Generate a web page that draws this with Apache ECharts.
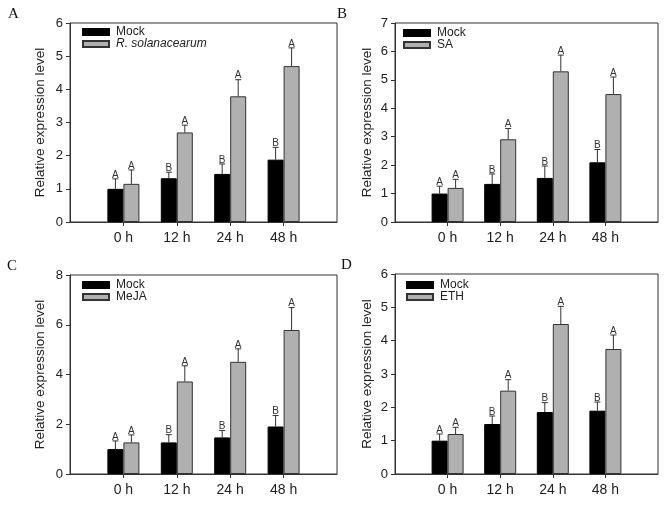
<!DOCTYPE html>
<html>
<head>
<meta charset="utf-8">
<script src="https://cdn.jsdelivr.net/npm/echarts@6/dist/echarts.min.js"></script>
<style>
  html, body { margin: 0; padding: 0; background: #fff; }
  #chart { width: 669px; height: 508px; }
</style>
</head>
<body>
<div id="chart"></div>
<script>
// categories (time after treatment)
const categories = ["0 h", "12 h", "24 h", "48 h"];
const panelLabels = ["A", "B", "C", "D"];
const treatNames = ["R. solanacearum", "SA", "MeJA", "ETH"];

// y axis max / step per panel
const yMax = [6, 7, 8, 6];
const yStep = [1, 1, 2, 1];

// mock values + error (upper)
const mockA = [1.0, 1.32, 1.45, 1.88];
const mockErrA = [0.3, 0.18, 0.3, 0.37];
const treatA = [1.15, 2.7, 3.79, 4.7];
const treatErrA = [0.42, 0.22, 0.5, 0.55];

const mockB = [1.0, 1.34, 1.55, 2.1];
const mockErrB = [0.26, 0.35, 0.42, 0.45];
const treatB = [1.2, 2.91, 5.3, 4.5];
const treatErrB = [0.3, 0.38, 0.57, 0.6];

const mockC = [1.0, 1.27, 1.47, 1.91];
const mockErrC = [0.33, 0.31, 0.28, 0.44];
const treatC = [1.27, 3.72, 4.51, 5.79];
const treatErrC = [0.3, 0.63, 0.52, 0.9];

const mockD = [1.0, 1.5, 1.86, 1.9];
const mockErrD = [0.2, 0.24, 0.28, 0.26];
const treatD = [1.2, 2.5, 4.5, 3.75];
const treatErrD = [0.2, 0.33, 0.53, 0.42];

// significance letters
const mockLetters = ["A", "B", "B", "B"];
const treatLetters = ["A", "A", "A", "A"];

const mockVals = [mockA, mockB, mockC, mockD];
const mockErrs = [mockErrA, mockErrB, mockErrC, mockErrD];
const treatVals = [treatA, treatB, treatC, treatD];
const treatErrs = [treatErrA, treatErrB, treatErrC, treatErrD];

const lineColor = "#333";
const textColor = "#222";
const grayColor = "#b0b0b0";
const barW = 16;

// plot boxes
const boxes = [
  { left: 70, top: 23, width: 267, height: 199 },
  { left: 395, top: 23, width: 263, height: 199 },
  { left: 70, top: 275, width: 267, height: 199 },
  { left: 395, top: 274, width: 263, height: 200 },
];
const nameGaps = [23, 21, 23, 21];
const letterPos = [
  { left: 8, top: 7 },
  { left: 337, top: 7 },
  { left: 7, top: 259 },
  { left: 341, top: 258 },
];
const legendPos = [
  { left: 82, top: 26 },
  { left: 403, top: 27 },
  { left: 82, top: 279 },
  { left: 406, top: 279 },
];

// one empty slot on each side of the four time points
const xData = [""].concat(categories, [""]);
const pad = (arr) => ["-"].concat(arr, ["-"]);

// error bar + letter drawn over one bar of the pair
let errorRenderer = (offset, letters) => {
  return (params, api) => {
    const x = api.value(0);
    const v = api.value(1);
    const e = api.value(2);
    const base = api.coord([x, v]);
    const top = api.coord([x, v + e]);
    const cx = base[0] + offset;
    const st = { stroke: lineColor, lineWidth: 1 };
    return {
      type: "group",
      children: [
        { type: "line", shape: { x1: cx, y1: base[1], x2: cx, y2: top[1] }, style: st },
        { type: "line", shape: { x1: cx - 3, y1: top[1], x2: cx + 3, y2: top[1] }, style: st },
        {
          type: "text",
          x: cx,
          y: top[1] + 1,
          style: {
            text: letters[params.dataIndex],
            fill: "#333",
            font: "10px 'Liberation Sans', Arial, sans-serif",
            align: "center",
            verticalAlign: "bottom",
          },
        },
      ],
    };
  };
};

let option = {
  animation: false,
  backgroundColor: "#fff",
  textStyle: { fontFamily: "'Liberation Sans', Arial, sans-serif" },
  title: [],
  legend: [],
  grid: [],
  xAxis: [],
  yAxis: [],
  series: [],
};

for (let p = 0; p < 4; p++) {
  option.title.push({
    text: panelLabels[p],
    left: letterPos[p].left,
    top: letterPos[p].top,
    padding: 0,
    textStyle: {
      fontFamily: "'Liberation Serif', 'Times New Roman', serif",
      fontSize: 15,
      fontWeight: "normal",
      color: "#111",
    },
  });

  option.legend.push({
    left: legendPos[p].left,
    top: legendPos[p].top,
    orient: "vertical",
    padding: 0,
    itemGap: 0,
    itemWidth: 26,
    itemHeight: 6,
    icon: "rect",
    selectedMode: false,
    textStyle: { fontSize: 12, color: textColor, lineHeight: 10, padding: [0, 0, 0, 2] },
    data: [
      { name: "Mock" },
      { name: treatNames[p], textStyle: p === 0 ? { fontStyle: "italic" } : {} },
    ],
  });

  option.grid.push({
    left: boxes[p].left,
    top: boxes[p].top,
    width: boxes[p].width,
    height: boxes[p].height,
    show: true,
    borderColor: lineColor,
    borderWidth: 1,
    backgroundColor: "transparent",
  });

  option.xAxis.push({
    type: "category",
    gridIndex: p,
    data: xData,
    boundaryGap: false,
    axisLine: { lineStyle: { color: lineColor } },
    axisTick: {
      length: 4,
      lineStyle: { color: lineColor },
      interval: (i, v) => v !== "",
    },
    axisLabel: { color: textColor, fontSize: 14, margin: 9, interval: 0 },
    splitLine: { show: false },
  });

  option.yAxis.push({
    type: "value",
    gridIndex: p,
    min: 0,
    max: yMax[p],
    interval: yStep[p],
    name: "Relative expression level",
    nameLocation: "middle",
    nameGap: nameGaps[p],
    nameTextStyle: { fontSize: 13.5, color: textColor },
    axisLine: { show: true, lineStyle: { color: lineColor } },
    axisTick: { show: true, length: 4, lineStyle: { color: lineColor } },
    axisLabel: { color: textColor, fontSize: 13, margin: 7 },
    splitLine: { show: false },
  });

  option.series.push(
    {
      name: "Mock",
      type: "bar",
      xAxisIndex: p,
      yAxisIndex: p,
      barWidth: barW,
      barGap: "0%",
      data: pad(mockVals[p]),
      itemStyle: { color: "#000", borderColor: "#000", borderWidth: 1 },
    },
    {
      name: treatNames[p],
      type: "bar",
      xAxisIndex: p,
      yAxisIndex: p,
      barWidth: barW,
      barGap: "0%",
      data: pad(treatVals[p]),
      itemStyle: { color: grayColor, borderColor: lineColor, borderWidth: 1 },
    },
    {
      type: "custom",
      xAxisIndex: p,
      yAxisIndex: p,
      renderItem: errorRenderer(-barW / 2, mockLetters),
      data: mockVals[p].map((v, i) => [i + 1, v, mockErrs[p][i]]),
      z: 5,
    },
    {
      type: "custom",
      xAxisIndex: p,
      yAxisIndex: p,
      renderItem: errorRenderer(barW / 2, treatLetters),
      data: treatVals[p].map((v, i) => [i + 1, v, treatErrs[p][i]]),
      z: 5,
    }
  );
}

let chart = echarts.init(document.getElementById("chart"));
chart.setOption(option);
</script>
</body>
</html>
